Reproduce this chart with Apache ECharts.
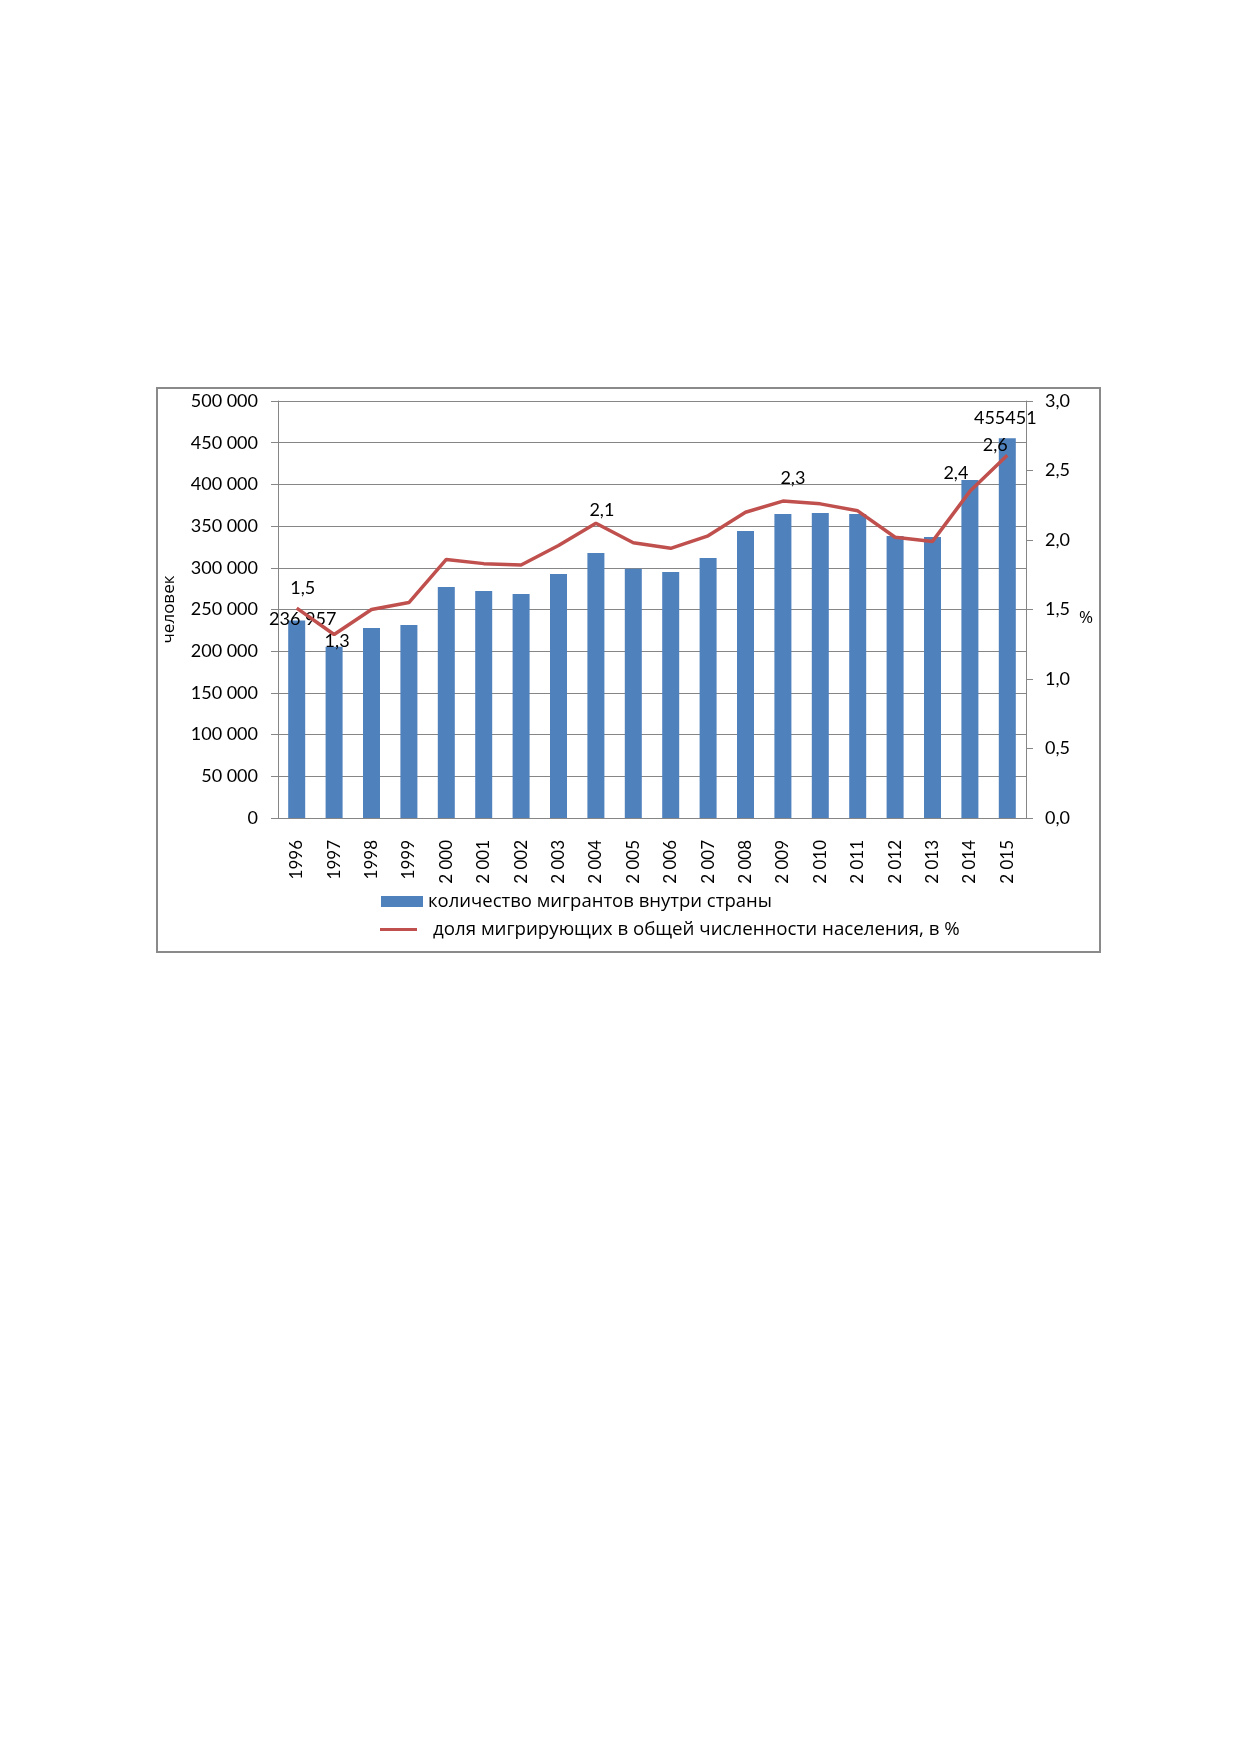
<!DOCTYPE html>
<html>
<head>
<meta charset="utf-8">
<script src="https://cdn.jsdelivr.net/npm/echarts/dist/echarts.min.js"></script>
<style>
  html, body { margin: 0; padding: 0; background: #fff; }
  #main { width: 1239px; height: 1752px; }
</style>
</head>
<body>
<div id="main"></div>
<script>
// годы (подписи оси X как на исходнике)
var years = ['1996', '1997', '1998', '1999', '2 000', '2 001', '2 002', '2 003', '2 004', '2 005',
             '2 006', '2 007', '2 008', '2 009', '2 010', '2 011', '2 012', '2 013', '2 014', '2 015'];
// количество мигрантов внутри страны, человек
var migrants = [236957, 205400, 227800, 231400, 277000, 272200, 268600, 292600, 317800, 299000,
                295000, 311700, 344100, 364500, 365700, 364500, 338100, 337000, 405300, 455451];
// доля мигрирующих, %
var share = [1.51, 1.32, 1.50, 1.55, 1.86, 1.83, 1.82, 1.96, 2.12, 1.98,
             1.94, 2.03, 2.20, 2.28, 2.26, 2.21, 2.02, 1.99, 2.35, 2.61];
// подписи значений
var migrantLabels = {0: '236 957', 19: '455451'};
var shareLabels = {0: '1,5', 1: '1,3', 8: '2,1', 13: '2,3', 18: '2,4', 19: '2,6'};

var barName = 'количество мигрантов внутри страны';
var lineName = 'доля мигрирующих в общей численности населения, в %';

var font = 'Lato, "Open Sans", sans-serif';
var cyr = '"Open Sans", "Noto Sans", sans-serif';

// где ставить подписи (position, distance, offset)
var barLabelPos = {
    0: {position: 'top', distance: -8, offset: [6, 0]},
    19: {position: 'top', distance: 11, offset: [-2, 0]}
};
var lineLabelPos = {
    0: {position: 'top', distance: 11, offset: [6, 0]},
    1: {position: 'bottom', distance: -2, offset: [3, 0]},
    8: {position: 'top', distance: 4, offset: [6, 0]},
    13: {position: 'top', distance: 14, offset: [10, 0]},
    18: {position: 'top', distance: 9, offset: [-14, 0]},
    19: {position: 'top', distance: 1, offset: [-12, 0]}
};

function buildData(values, labels, pos) {
    return values.map(function (v, i) {
        var item = {value: v};
        if (labels[i] !== undefined) {
            var p = pos[i];
            item.label = {
                show: true,
                position: p.position,
                distance: p.distance,
                offset: p.offset,
                formatter: labels[i],
                color: '#000',
                fontFamily: font,
                fontSize: 18
            };
        }
        return item;
    });
}

var myChart = echarts.init(document.getElementById('main'));

myChart.setOption({
    backgroundColor: '#fff',
    animation: false,
    grid: {left: 278, right: 213, top: 401, bottom: 934, containLabel: false},
    graphic: [{
        type: 'rect',
        shape: {x: 157, y: 388, width: 943, height: 564},
        style: {fill: 'none', stroke: '#8a8a8a', lineWidth: 2},
        z: -1
    }],
    legend: [{
        data: [barName],
        left: 381, top: 892,
        padding: 0,
        itemWidth: 42, itemHeight: 11,
        icon: 'rect',
        itemStyle: {borderWidth: 0},
        textStyle: {fontFamily: cyr, fontSize: 18.5, color: '#000'}
    }, {
        data: [{name: lineName, icon: 'rect'}],
        left: 380, top: 920,
        padding: 0,
        itemWidth: 37, itemHeight: 3,
        textStyle: {fontFamily: cyr, fontSize: 18.7, color: '#000', padding: [0, 0, 0, 11]}
    }],
    xAxis: {
        type: 'category',
        data: years,
        axisLine: {lineStyle: {color: '#868686', width: 1}},
        axisTick: {show: false},
        axisLabel: {rotate: 90, margin: 22, color: '#000', fontFamily: font, fontSize: 17, interval: 0}
    },
    yAxis: [{
        type: 'value',
        min: 0, max: 500000, interval: 50000,
        name: 'человек',
        nameLocation: 'middle',
        nameRotate: 90,
        nameGap: 100,
        nameTextStyle: {fontFamily: cyr, fontSize: 17, color: '#000'},
        axisLine: {show: true, lineStyle: {color: '#868686'}},
        axisTick: {show: true, length: 7, lineStyle: {color: '#868686'}},
        splitLine: {lineStyle: {color: '#868686', width: 1}},
        axisLabel: {
            margin: 20, color: '#000', fontFamily: font, fontSize: 18,
            formatter: function (v) {
                return String(v).replace(/\B(?=(\d{3})+(?!\d))/g, ' ');
            }
        }
    }, {
        type: 'value',
        min: 0, max: 3, interval: 0.5,
        position: 'right',
        name: '%',
        nameLocation: 'middle',
        nameRotate: 0,
        nameGap: 53,
        nameTextStyle: {fontFamily: cyr, fontSize: 17, color: '#000', verticalAlign: 'top'},
        axisLine: {show: true, lineStyle: {color: '#868686'}},
        axisTick: {show: true, length: 7, lineStyle: {color: '#868686'}},
        splitLine: {show: false},
        axisLabel: {
            margin: 19, color: '#000', fontFamily: font, fontSize: 18,
            formatter: function (v) {
                return v.toFixed(1).replace('.', ',');
            }
        }
    }],
    series: [{
        name: barName,
        type: 'bar',
        yAxisIndex: 0,
        barWidth: 17,
        itemStyle: {color: '#4F81BD'},
        data: buildData(migrants, migrantLabels, barLabelPos)
    }, {
        name: lineName,
        type: 'line',
        yAxisIndex: 1,
        symbol: 'circle',
        symbolSize: 0.1,
        showSymbol: true,
        lineStyle: {color: '#C0504D', width: 3.5},
        itemStyle: {color: '#C0504D'},
        data: buildData(share, shareLabels, lineLabelPos),
        z: 3
    }]
});
</script>
</body>
</html>
